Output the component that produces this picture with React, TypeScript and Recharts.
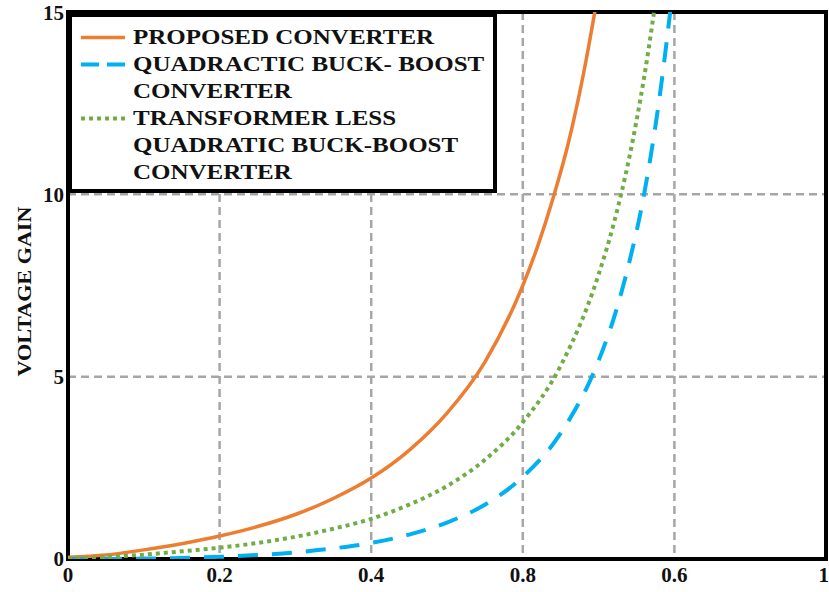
import React from 'react';
import { LineChart, Line, XAxis, YAxis, CartesianGrid, ReferenceArea, Legend, Label } from 'recharts';

// Duty ratio (x) and voltage gain (y)
const proposedD = [0, 0.05, 0.1, 0.15, 0.2, 0.25, 0.3, 0.35, 0.4, 0.45, 0.5, 0.55, 0.6, 0.62, 0.64, 0.66, 0.68, 0.7];
const proposedGain = [0.05, 0.11, 0.25, 0.42, 0.63, 0.89, 1.22, 1.66, 2.22, 2.98, 4.0, 5.4, 7.5, 8.6, 9.9, 11.4, 13.3, 15.6];

const quadD = [0, 0.05, 0.1, 0.15, 0.2, 0.25, 0.3, 0.35, 0.4, 0.45, 0.5, 0.55, 0.6, 0.65, 0.7, 0.72, 0.74, 0.76, 0.78, 0.8];
const quadGain = [0, 0.003, 0.012, 0.03, 0.06, 0.11, 0.18, 0.29, 0.44, 0.67, 1.0, 1.49, 2.25, 3.45, 5.44, 6.6, 8.1, 10.0, 12.6, 16.0];

const tlD = [0, 0.05, 0.1, 0.15, 0.2, 0.25, 0.3, 0.35, 0.4, 0.45, 0.5, 0.55, 0.6, 0.65, 0.7, 0.72, 0.74, 0.76, 0.78];
const tlGain = [0, 0.055, 0.12, 0.21, 0.31, 0.44, 0.61, 0.83, 1.1, 1.49, 2.0, 2.72, 3.75, 5.3, 7.8, 9.2, 10.96, 13.2, 16.0];

const xTicks = [0, 0.2, 0.4, 0.6, 0.8, 1];
const xTickLabels = ['0', '0.2', '0.4', '0.8', '0.6', '1'];
const yTicks = [0, 5, 10, 15];

const seriesNames = ['PROPOSED CONVERTER', 'QUADRACTIC BUCK- BOOST CONVERTER', 'TRANSFORMER LESS QUADRATIC BUCK-BOOST CONVERTER'];
const legendLines = [
  ['PROPOSED CONVERTER'],
  ['QUADRACTIC BUCK- BOOST', 'CONVERTER'],
  ['TRANSFORMER LESS', 'QUADRATIC BUCK-BOOST', 'CONVERTER'],
];

const colors = ['#ED7D31', '#00B0F0', '#70AD47'];
const dashes = [undefined, '20 14', '4 4'];
const widths = [3.5, 4, 4];

const toRows = (xs: number[], ys: number[]) => xs.map((x, i) => ({ x, y: ys[i] }));
const proposedData = toRows(proposedD, proposedGain);
const quadData = toRows(quadD, quadGain);
const tlData = toRows(tlD, tlGain);

const FONT = '"Liberation Serif", "Times New Roman", serif';

const LegendBox = () => (
  <div
    style={{
      boxSizing: 'border-box',
      width: 429,
      height: 180,
      border: '4px solid #000',
      background: '#fff',
      paddingTop: 7,
      fontFamily: FONT,
      fontWeight: 'bold',
      fontSize: 21,
      lineHeight: '27px',
      color: '#111',
    }}
  >
    {legendLines.map((lines, i) => (
      <div key={i} style={{ display: 'flex' }}>
        <svg width={61} height={27} style={{ flex: 'none', display: 'block' }}>
          <line
            x1={9}
            x2={53}
            y1={13.5}
            y2={13.5}
            stroke={colors[i]}
            strokeWidth={widths[i]}
            strokeDasharray={i === 1 ? '18 8' : dashes[i]}
          />
        </svg>
        <div>
          {lines.map((l, j) => (
            <div key={j} style={{ transform: 'scaleX(1.19)', transformOrigin: 'left center', whiteSpace: 'nowrap' }}>
              {l}
            </div>
          ))}
        </div>
      </div>
    ))}
  </div>
);

const YLabel = (props: any) => {
  const vb = props.viewBox || { x: 0, y: 12, width: 68, height: 547 };
  const cx = vb.x + 25;
  const cy = vb.y + vb.height / 2 + 6;
  return (
    <text
      x={cx}
      y={cy}
      transform={`rotate(-90, ${cx}, ${cy})`}
      textAnchor="middle"
      dominantBaseline="central"
      fontFamily={FONT}
      fontWeight="bold"
      fontSize={18}
      fill="#111"
      textLength={170}
      lengthAdjust="spacingAndGlyphs"
    >
      VOLTAGE GAIN
    </text>
  );
};

const tickStyle = { fill: '#111', fontSize: 21, fontWeight: 'bold', fontFamily: FONT };

export default function App() {
  return (
    <div style={{ position: 'absolute', left: 0, top: 0, background: '#fff' }}>
      <LineChart width={829} height={592} margin={{ top: 12, right: 3, left: 0, bottom: 0 }}>
        <CartesianGrid stroke="#A6A6A6" strokeDasharray="8 5" strokeWidth={2.5} />
        <XAxis
          dataKey="x"
          type="number"
          domain={[0, 1]}
          ticks={xTicks}
          tickFormatter={(v: number, i: number) => xTickLabels[i]}
          axisLine={false}
          tickLine={false}
          tickSize={6}
          height={33}
          tick={tickStyle}
          allowDataOverflow
        />
        <YAxis
          type="number"
          domain={[0, 15]}
          ticks={yTicks}
          axisLine={false}
          tickLine={false}
          tickSize={2}
          width={68}
          tick={tickStyle}
          allowDataOverflow
        >
          <Label content={<YLabel />} />
        </YAxis>
        <Line data={proposedData} dataKey="y" name={seriesNames[0]} type="monotone" stroke={colors[0]} strokeWidth={widths[0]} dot={false} isAnimationActive={false} />
        <Line data={quadData} dataKey="y" name={seriesNames[1]} type="monotone" stroke={colors[1]} strokeWidth={widths[1]} strokeDasharray={dashes[1]} dot={false} isAnimationActive={false} />
        <Line data={tlData} dataKey="y" name={seriesNames[2]} type="monotone" stroke={colors[2]} strokeWidth={widths[2]} strokeDasharray={dashes[2]} dot={false} isAnimationActive={false} />
        <ReferenceArea x1={0} x2={1} y1={0} y2={15} fill="none" fillOpacity={0} stroke="#000" strokeWidth={4} strokeOpacity={1} ifOverflow="visible" />
        <Legend
          layout="vertical"
          align="center"
          verticalAlign="middle"
          width={429}
          height={180}
          wrapperStyle={{ left: 68, top: 13, width: 429, height: 180 }}
          content={() => <LegendBox />}
        />
      </LineChart>
    </div>
  );
}
